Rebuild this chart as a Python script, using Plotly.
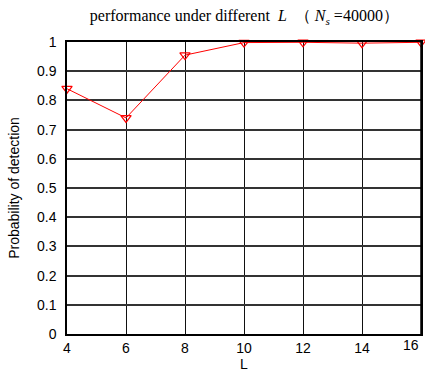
import plotly.graph_objects as go

L_values = [4, 6, 8, 10, 12, 14, 16]
pd_values = [0.84, 0.74, 0.955, 0.998, 0.999, 0.996, 0.999]
y_ticks = [0, 0.1, 0.2, 0.3, 0.4, 0.5, 0.6, 0.7, 0.8, 0.9, 1]
y_tick_labels = ["0", "0.1", "0.2", "0.3", "0.4", "0.5", "0.6", "0.7", "0.8", "0.9", "1"]
x_ticks = [4, 6, 8, 10, 12, 14, 16]
x_tick_labels = ["4", "6", "8", "10", "12", "14", "16"]

fig = go.Figure()
fig.add_trace(go.Scatter(
    x=L_values, y=pd_values, mode="lines+markers",
    line=dict(color="#ff0000", width=1),
    marker=dict(symbol="triangle-down-open", size=9, color="#ff0000", line=dict(width=1.2)),
    showlegend=False, cliponaxis=False,
))

fig.update_layout(
    width=425, height=372,
    margin=dict(l=67, r=2, t=42, b=38),
    paper_bgcolor="white", plot_bgcolor="white",
    title=dict(
        text="performance under different  <i>L</i>  （ <i>N<sub>s</sub></i> =40000）",
        x=0.575, xanchor="center", y=0.958, yanchor="middle",
        font=dict(family="Liberation Serif, Times New Roman, serif", size=16, color="black"),
    ),
    font=dict(family="Liberation Sans, Arial, sans-serif", size=14, color="black"),
)

# last tick label placed right-aligned so it stays inside the figure
fig.add_annotation(
    x=x_ticks[-1], y=0, xref="x", yref="paper",
    text=x_tick_labels[-1], showarrow=False,
    xanchor="right", yanchor="top", yshift=-1,
    font=dict(size=14, color="black"),
)

fig.update_xaxes(
    range=[4, 16], tickvals=x_ticks[:-1], ticktext=x_tick_labels[:-1],
    showgrid=True, gridcolor="#111", gridwidth=1,
    showline=True, linecolor="black", linewidth=1.5, mirror=True,
    ticks="", zeroline=False,
    title=dict(text="L", font=dict(size=14), standoff=0),
    tickfont=dict(size=14),
)
fig.add_shape(type="line", x0=x_ticks[-1], x1=x_ticks[-1], y0=0, y1=1,
              xref="x", yref="paper", line=dict(color="black", width=1.5))
fig.update_yaxes(
    range=[0, 1], tickvals=y_ticks, ticktext=y_tick_labels,
    showgrid=True, gridcolor="#333", gridwidth=1.5,
    showline=True, linecolor="black", linewidth=1.5, mirror=True,
    ticks="", zeroline=False, ticklabelstandoff=6,
    title=dict(text="Probability of detection", font=dict(size=14), standoff=14),
    tickfont=dict(size=14),
)

fig.write_html("out.html", config={"displayModeBar": False},
               post_script="document.body.style.margin='0';document.body.style.overflow='hidden';")
